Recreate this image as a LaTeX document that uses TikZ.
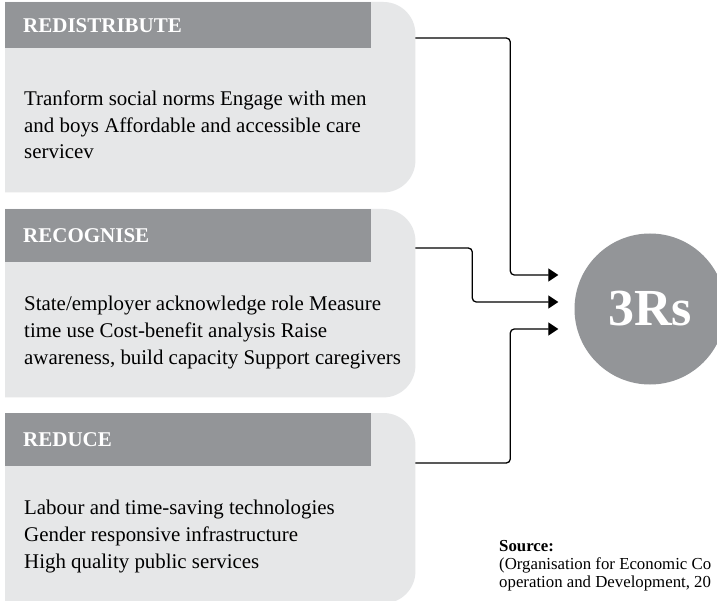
\documentclass[tikz,border=0pt]{standalone}
\usepackage{fontspec}
\setmainfont{Liberation Serif}
\usetikzlibrary{positioning, arrows.meta}
\definecolor{panelgray}{HTML}{E6E7E8}
\definecolor{headgray}{HTML}{939598}

\begin{document}
\begin{tikzpicture}[x=1pt, y=-1pt,
  panel/.style = {inner sep=0pt, minimum width=410pt, anchor=north west},
  head/.style = {fill=headgray, text=white, font=\bfseries\fontsize{21}{21}\selectfont, anchor=north west, inner xsep=18pt, inner ysep=0pt, text width=330pt, align=left},
  body/.style = {inner sep=0pt, anchor=base west, align=left, font=\fontsize{20.9}{26.8}\selectfont},
  link/.style = {line width=1.3pt, rounded corners=4pt, -{Triangle[length=10pt, width=13pt]}}]
\clip (0,0) rectangle (717,601);
\fill[white] (0,0) rectangle (717,601);

% the three panels
\node[panel, minimum height=190pt] (redist) at (5,2) {};
\node[panel, minimum height=188pt] (recog) at (5,209) {};
\node[panel, minimum height=190pt] (reduce) at (5,413) {};
\foreach \p in {redist, recog, reduce}
  \fill[panelgray, rounded corners=32pt] (\p.north west) -- (\p.north east) -- (\p.south east) -- (\p.south west);

\node[head, minimum height=46pt] (redist-h) at (redist.north west) {REDISTRIBUTE};
\node[head, minimum height=53pt] (recog-h) at (recog.north west) {RECOGNISE};
\node[head, minimum height=53pt] (reduce-h) at (reduce.north west) {REDUCE};

% base of a body node sits on its last line
\node[body] (redist-t) at (24,159) {Tranform social norms Engage with men\\and boys Affordable and accessible care\\servicev};
\node[body] (recog-t) at (24,364) {State/employer acknowledge role Measure\\time use Cost-benefit analysis Raise\\awareness, build capacity Support caregivers};
\node[body] (reduce-t) at (24,568) {Labour and time-saving technologies\\Gender responsive infrastructure\\High quality public services};

% hub
\node[circle, fill=headgray, minimum size=151pt, inner sep=0pt, text=white, font=\bfseries\fontsize{52}{52}\selectfont] (hub) at (650,309) {3Rs};
\coordinate (in1) at ([xshift=-16pt, yshift=34pt]hub.west);
\coordinate (in2) at ([xshift=-16pt, yshift=7pt]hub.west);
\coordinate (in3) at ([xshift=-16pt, yshift=-20pt]hub.west);

\draw[link] ([yshift=-36pt]redist.north east) -| ([xshift=-48pt]in1) -- (in1);
\draw[link] ([yshift=-39pt]recog.north east) -| ([xshift=-86pt]in2) -- (in2);
\draw[link] ([yshift=-50pt]reduce.north east) -| ([xshift=-48pt]in3) -- (in3);

% source note
\node[inner sep=0pt, anchor=base west, align=left, font=\fontsize{16.8}{18}\selectfont] (src) at (499,587) {\textbf{Source:}\\(Organisation for Economic Co\\operation and Development, 20};
\end{tikzpicture}
\end{document}
